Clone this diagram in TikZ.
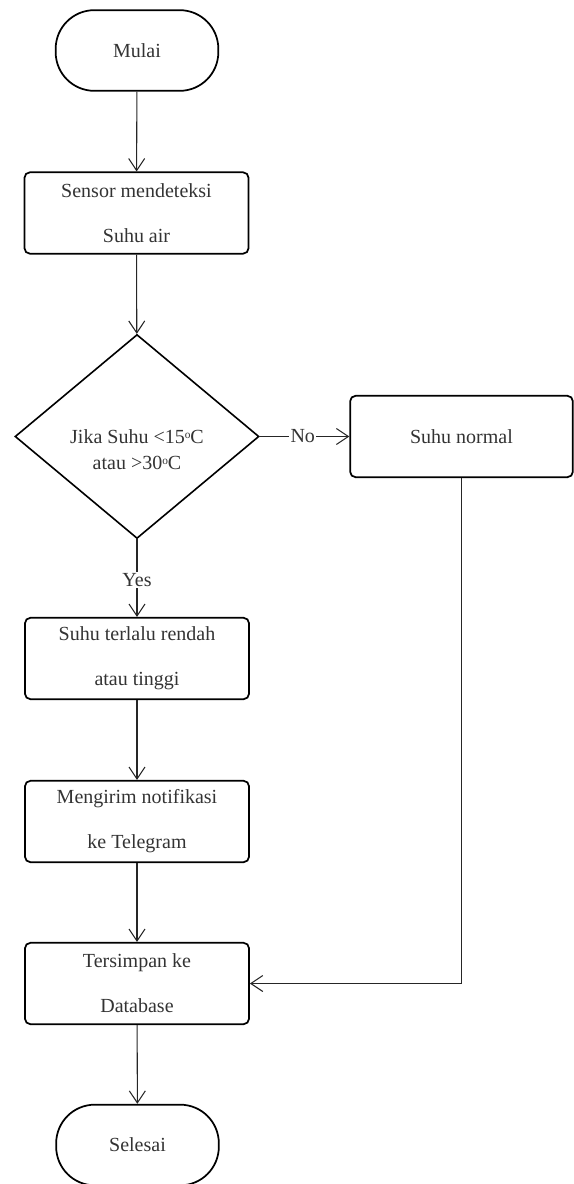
\documentclass[tikz,border=0pt]{standalone}
\usepackage{fontspec}
\setmainfont{Liberation Serif}
\usetikzlibrary{shapes.geometric,arrows.meta}

% small raised "o" used as the degree mark
\newcommand{\degmark}{\raisebox{0.55ex}{\fontsize{8.5}{8.5}\selectfont o}}

\begin{document}
\begin{tikzpicture}[x=0.75pt,y=-0.75pt,
  font=\fontsize{15}{18}\selectfont,
  txt/.style={text=black!80},
  terminal/.style={draw, line width=1.3pt, rounded corners=29pt,
    minimum width=122pt, minimum height=60.5pt, inner sep=0pt, txt},
  process/.style={draw, line width=1.3pt, rounded corners=4pt,
    minimum width=168pt, minimum height=61pt, inner sep=0pt, align=center, txt},
  decision/.style={draw, diamond, line width=1.2pt,
    minimum width=183pt, minimum height=153pt, inner sep=0pt},
  flow/.style={draw=black!85, line width=0.8pt,
    -{Straight Barb[length=9pt,width=12pt,line width=0.8pt]}},
  lbl/.style={fill=white, inner sep=1pt, txt}
]
\useasboundingbox (0,0) rectangle (574,1184);

% start / end
\node[terminal] (start) at (137,50.5) {Mulai};
\node[terminal] (stop)  at (137.5,1145) {Selesai};

% processing steps
\node[process] (sense)  at (136.5,213) {Sensor mendeteksi\\[15.75pt]Suhu air};
\node[process] (fault)  at (137,658.5) {Suhu terlalu rendah\\[15.75pt]atau tinggi};
\node[process] (notify) at (137,821.5) {Mengirim notifikasi\\[15.75pt]ke Telegram};
\node[process] (store)  at (137,983.5) {Tersimpan ke\\[15.75pt]Database};
\node[process, minimum width=167pt] (normal) at (461.5,436.5) {Suhu normal};

% temperature check
\node[decision] (check) at (137,436.5) {};
\node[align=center, txt] (checktext) at (137,450)
  {Jika Suhu <15\degmark C\\[1.5pt]atau >30\degmark C};

% connectors
\draw[flow] (start) -- (sense);
\draw[flow] (sense) -- (check);
\draw[flow] (check.south) -- node[lbl, pos=0.52] (yes) {Yes} (fault.north);
\draw[flow] (check.east) -- node[lbl, pos=0.48] (no) {No} (normal.west);
\draw[flow] (fault) -- (notify);
\draw[flow] (notify) -- (store);
\draw[flow] (store) -- (stop);
\draw[flow] (normal.south) |- (store.east);
\end{tikzpicture}
\end{document}
